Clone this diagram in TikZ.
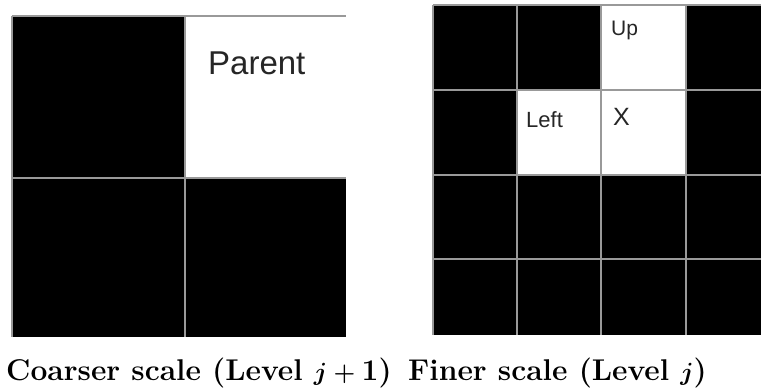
\documentclass[tikz,border=0pt]{standalone}
\usepackage{fontspec}
\newfontfamily\arialfont{Liberation Sans}
\begin{document}
\begin{tikzpicture}[x=1pt,y=-1pt,
  blackcell/.style={fill=black},
  whitecell/.style={fill=white},
  gridline/.style={draw=black!40,line width=1.3pt},
  celltext/.style={anchor=base west,inner sep=0pt,font=\arialfont,text=black!85},
  caption/.style={anchor=base west,inner sep=0pt,font=\fontsize{30}{36}\selectfont\bfseries\boldmath}]
\useasboundingbox (0,0) rectangle (761,390);
% ---- left panel (coarser) ----
\fill[blackcell] (12,16) rectangle (185,178);
\fill[whitecell] (185,16) rectangle (346,178);
\fill[blackcell] (12,178) rectangle (185,337);
\fill[blackcell] (185,178) rectangle (346,337);
\draw[gridline] (12,16) -- (346,16);
\draw[gridline] (12,16) -- (12,337);
\draw[gridline] (185,16) -- (185,337);
\draw[gridline] (12,178) -- (346,178);
\node[celltext,font=\arialfont\fontsize{33}{40}\selectfont] (parent) at (208,75) {Parent};
% ---- right panel (finer) ----
\foreach \r/\ya/\yb in {0/5/90,1/90/175,2/175/259,3/259/335}{
  \foreach \c/\xa/\xb in {0/433/517,1/517/601,2/601/686,3/686/770}{
    \fill[blackcell] (\xa,\ya) rectangle (\xb,\yb);
  }
}
\fill[whitecell] (601,5) rectangle (686,90);
\fill[whitecell] (517,90) rectangle (601,175);
\fill[whitecell] (601,90) rectangle (686,175);
\draw[gridline] (433,5) -- (770,5);
\draw[gridline] (433,5) -- (433,335);
\foreach \x in {517,601,686} \draw[gridline] (\x,5) -- (\x,335);
\foreach \y in {90,175,259} \draw[gridline] (433,\y) -- (770,\y);
\node[celltext,font=\arialfont\fontsize{21}{25}\selectfont] (up) at (611,36) {Up};
\node[celltext,font=\arialfont\fontsize{22}{26}\selectfont] (left) at (526,128) {Left};
\node[celltext,font=\arialfont\fontsize{25}{30}\selectfont] (xcell) at (613,126) {X};
% ---- captions ----
\node[caption] (capl) at (6,381) {Coarser scale (Level $j+{}$1)};
\node[caption] (capr) at (408,381) {Finer scale (Level $j$)};
\end{tikzpicture}
\end{document}
